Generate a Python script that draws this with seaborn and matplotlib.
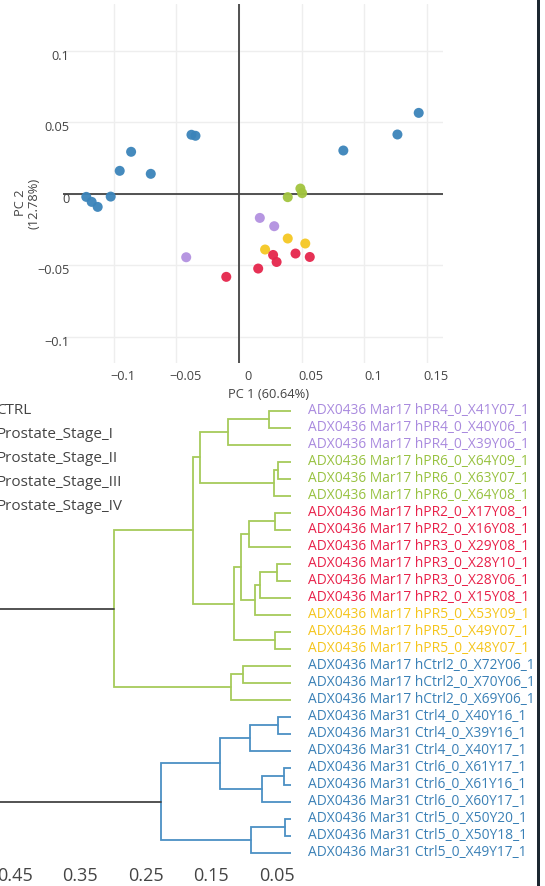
import numpy as np
import pandas as pd
import matplotlib
matplotlib.use("Agg")
import matplotlib.pyplot as plt
import matplotlib.transforms as mtransforms
from matplotlib.patches import Rectangle
import seaborn as sns

sns.set_style("white")
plt.rcParams["font.family"] = ["Open Sans", "DejaVu Sans"]

# ---- PCA scores ----
pc1 = [0.1436, 0.1266, 0.0834, -0.0379, -0.0347, -0.0861, -0.0952, -0.0704,
       -0.1024, -0.1219, -0.1176, -0.1128,
       0.0491, 0.0505, 0.0390,
       0.0167, 0.0282, -0.0421,
       0.0390, 0.0530, 0.0209,
       0.0273, 0.0301, 0.0452, 0.0566, 0.0154, -0.0101]
pc2 = [0.0566, 0.0415, 0.0303, 0.0413, 0.0406, 0.0294, 0.0161, 0.0140,
       -0.0019, -0.0021, -0.0056, -0.0091,
       0.0037, 0.0005, -0.0023,
       -0.0168, -0.0226, -0.0443,
       -0.0312, -0.0347, -0.0389,
       -0.0427, -0.0476, -0.0417, -0.0441, -0.0522, -0.0580]
groups = (["CTRL"] * 12 + ["Prostate_Stage_I"] * 3 + ["Prostate_Stage_II"] * 3
          + ["Prostate_Stage_III"] * 3 + ["Prostate_Stage_IV"] * 6)
group_names = ["CTRL", "Prostate_Stage_I", "Prostate_Stage_II",
               "Prostate_Stage_III", "Prostate_Stage_IV"]
group_colors = {"CTRL": "#3b84ba", "Prostate_Stage_I": "#a2c43e",
                "Prostate_Stage_II": "#b290e0", "Prostate_Stage_III": "#f5c723",
                "Prostate_Stage_IV": "#e5264c"}

# ---- dendrogram ----
leaf_labels = [
    "ADX0436 Mar17 hPR4_0_X41Y07_1", "ADX0436 Mar17 hPR4_0_X40Y06_1",
    "ADX0436 Mar17 hPR4_0_X39Y06_1", "ADX0436 Mar17 hPR6_0_X64Y09_1",
    "ADX0436 Mar17 hPR6_0_X63Y07_1", "ADX0436 Mar17 hPR6_0_X64Y08_1",
    "ADX0436 Mar17 hPR2_0_X17Y08_1", "ADX0436 Mar17 hPR2_0_X16Y08_1",
    "ADX0436 Mar17 hPR3_0_X29Y08_1", "ADX0436 Mar17 hPR3_0_X28Y10_1",
    "ADX0436 Mar17 hPR3_0_X28Y06_1", "ADX0436 Mar17 hPR2_0_X15Y08_1",
    "ADX0436 Mar17 hPR5_0_X53Y09_1", "ADX0436 Mar17 hPR5_0_X49Y07_1",
    "ADX0436 Mar17 hPR5_0_X48Y07_1", "ADX0436 Mar17 hCtrl2_0_X72Y06_1",
    "ADX0436 Mar17 hCtrl2_0_X70Y06_1", "ADX0436 Mar17 hCtrl2_0_X69Y06_1",
    "ADX0436 Mar31 Ctrl4_0_X40Y16_1", "ADX0436 Mar31 Ctrl4_0_X39Y16_1",
    "ADX0436 Mar31 Ctrl4_0_X40Y17_1", "ADX0436 Mar31 Ctrl6_0_X61Y17_1",
    "ADX0436 Mar31 Ctrl6_0_X61Y16_1", "ADX0436 Mar31 Ctrl6_0_X60Y17_1",
    "ADX0436 Mar31 Ctrl5_0_X50Y20_1", "ADX0436 Mar31 Ctrl5_0_X50Y18_1",
    "ADX0436 Mar31 Ctrl5_0_X49Y17_1",
]
leaf_groups = (["Prostate_Stage_II"] * 3 + ["Prostate_Stage_I"] * 3
               + ["Prostate_Stage_IV"] * 6 + ["Prostate_Stage_III"] * 3
               + ["CTRL"] * 12)
label_colors = {"CTRL": "#3a80b6", "Prostate_Stage_I": "#98c241",
                "Prostate_Stage_II": "#a98ade", "Prostate_Stage_III": "#f5c51c",
                "Prostate_Stage_IV": "#e8224a"}
# linkage: (left, right, height), new node ids start at len(leaf_labels)
merge_left = [0, 27, 3, 29, 28, 6, 32, 9, 34, 35, 33, 13, 37, 31, 15, 41, 40,
              18, 44, 21, 46, 45, 24, 49, 48, 43]
merge_right = [1, 2, 4, 5, 30, 7, 8, 10, 11, 12, 36, 14, 38, 39, 16, 17, 42,
               19, 20, 22, 23, 47, 25, 26, 50, 51]
merge_height = [0.0620, 0.1247, 0.0482, 0.0538, 0.1671, 0.0518, 0.0926, 0.0488,
                0.0757, 0.0824, 0.1044, 0.0518, 0.1156, 0.1783, 0.1013, 0.1197,
                0.2984, 0.0472, 0.0910, 0.0390, 0.0722, 0.1365, 0.0370, 0.0895,
                0.2264, 0.55]
color_threshold = 0.35
cluster_colors = ["#a6ca5a", "#4b90c4"]
dend_ticks = [0.45, 0.35, 0.25, 0.15, 0.05]

W, H = 545, 886
fig = plt.figure(figsize=(W / 100, H / 100), dpi=100)


def px_axes(l, t, r, b):
    return fig.add_axes([l / W, 1 - b / H, (r - l) / W, (b - t) / H])


txt = "#444444"

# ---------- PCA scatter ----------
ax1 = px_axes(63, 4, 443, 362.7)
df = pd.DataFrame({"pc1": pc1, "pc2": pc2, "group": groups})
ax1.grid(True, color="#eeeeee", lw=1)
ax1.set_axisbelow(True)
ax1.axhline(0, color="#444444", lw=1.3, zorder=1)
ax1.axvline(0, color="#444444", lw=1.3, zorder=1)
sns.scatterplot(data=df, x="pc1", y="pc2", hue="group", palette=group_colors,
                hue_order=group_names, s=52, linewidth=0, alpha=0.95,
                legend=False, ax=ax1, zorder=3)
ax1.set_xlim(-0.1405, 0.163)
ax1.set_ylim(-0.118, 0.1327)
ax1.set_xticks([-0.1, -0.05, 0, 0.05, 0.1, 0.15])
ax1.set_xticklabels(["\u22120.1", "\u22120.05", "0", "0.05", "0.1", "0.15"])
ax1.set_yticks([-0.1, -0.05, 0, 0.05, 0.1])
ax1.set_yticklabels(["\u22120.1", "\u22120.05", "0", "0.05", "0.1"])
ax1.tick_params(length=0, labelsize=9.2, colors=txt)
ax1.tick_params(axis="x", pad=5)
ax1.tick_params(axis="y", pad=-4.5)
for lab in ax1.get_yticklabels():
    lab.set_transform(lab.get_transform()
                      + mtransforms.ScaledTranslation(0, -0.04, fig.dpi_scale_trans))
for lab in ax1.get_xticklabels():
    lab.set_transform(lab.get_transform()
                      + mtransforms.ScaledTranslation(0.09, 0, fig.dpi_scale_trans))
for sp in ax1.spines.values():
    sp.set_visible(False)
ax1.set_xlabel("")
ax1.set_ylabel("")
fig.text(269 / W, 1 - 395 / H, "PC 1 (60.64%)", ha="center", va="center",
         fontsize=9.3, color=txt)
fig.text(27 / W, 1 - 203 / H, "PC 2\n(12.78%)", ha="center", va="center",
         rotation=90, multialignment="center", fontsize=9.3, color=txt,
         linespacing=1.05)

# ---------- dendrogram ----------
ax2 = px_axes(0, 402, 291, 862)
n = len(leaf_labels)
pos = {i: float(i) for i in range(n)}
hgt = {i: 0.0 for i in range(n)}
for k, (a, b, h) in enumerate(zip(merge_left, merge_right, merge_height)):
    pos[n + k] = (pos[a] + pos[b]) / 2
    hgt[n + k] = h

link_color = {}
state = {"next": 0}


def paint(node, color):
    if node < n:
        return
    a, b = merge_left[node - n], merge_right[node - n]
    h = hgt[node]
    if h > color_threshold:
        link_color[node] = "#444444"
        for child in (a, b):
            if child >= n and hgt[child] <= color_threshold:
                c = cluster_colors[state["next"] % len(cluster_colors)]
                state["next"] += 1
                paint(child, c)
            else:
                paint(child, "#444444")
    else:
        link_color[node] = color
        paint(a, color)
        paint(b, color)


paint(n + len(merge_height) - 1, "#444444")
for k, (a, b, h) in enumerate(zip(merge_left, merge_right, merge_height)):
    ax2.plot([hgt[a], h, h, hgt[b]], [pos[a], pos[a], pos[b], pos[b]],
             color=link_color[n + k], lw=1.3, solid_joinstyle="miter")

ax2.set_xlim(0.473, 0.0278)
ax2.set_ylim(26.55, -0.51)
ax2.set_xticks(dend_ticks)
ax2.set_xticklabels([f"{t:.2f}" for t in dend_ticks])
ax2.set_yticks([])
ax2.tick_params(axis="x", length=0, labelsize=13, colors=txt, pad=3.5)
for sp in ax2.spines.values():
    sp.set_visible(False)

lab_tr = mtransforms.blended_transform_factory(fig.transFigure, ax2.transData)
for i, (lab, g) in enumerate(zip(leaf_labels, leaf_groups)):
    ax2.text(308 / W, i, lab, transform=lab_tr, ha="left", va="center",
             fontsize=9.9, color=label_colors[g], clip_on=False)

# legend (cut at left edge)
for j, name in enumerate(group_names):
    fig.text(-4 / W, 1 - (410.7 + 24 * j) / H, name, ha="left", va="center",
             fontsize=11, color=txt)

# dark frame edge at right
fig.add_artist(Rectangle((537 / W, 0), 3 / W, 1, transform=fig.transFigure,
                         color="#1d2731", lw=0))

fig.savefig("out.png", dpi=100)
